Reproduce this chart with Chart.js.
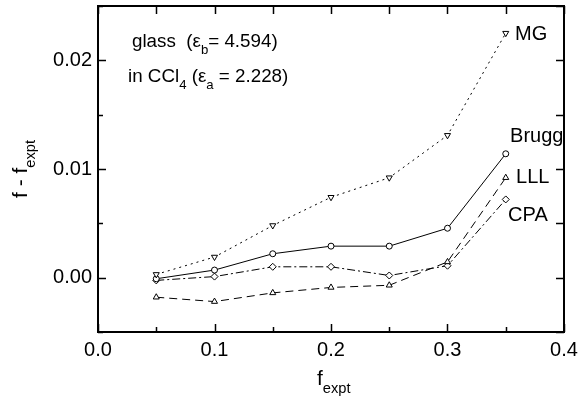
<!DOCTYPE html>
<html>
<head>
<meta charset="utf-8">
<script src="https://cdn.jsdelivr.net/npm/chart.js@4/dist/chart.umd.min.js"></script>
<style>
  html, body { margin: 0; padding: 0; background: #fff; }
  canvas { display: block; }
</style>
</head>
<body>
<canvas id="chart" width="580" height="398"></canvas>
<script>
const FONT = "'Liberation Sans', Arial, Helvetica, sans-serif"

// volume fractions measured
const fExpt = [0.05, 0.10, 0.15, 0.20, 0.25, 0.30, 0.35]

// model minus experiment
const mg    = [0.0003, 0.0019, 0.0048, 0.0074, 0.0092, 0.0131, 0.0225]
const brugg = [-0.0001, 0.0007, 0.0022, 0.0029, 0.0029, 0.00455, 0.0114]
const lll   = [-0.0018, -0.0022, -0.0014, -0.0009, -0.0007, 0.00145, 0.0092]
const cpa   = [-0.00025, 0.0001, 0.0010, 0.0010, 0.0002, 0.0011, 0.0072]

const xTicks = [0.0, 0.1, 0.2, 0.3, 0.4]
const yTicks = [0.00, 0.01, 0.02]
const xMinor = [0.05, 0.15, 0.25, 0.35]
const yMinor = [-0.005, 0.005, 0.015, 0.025]

const seriesNames = ['MG', 'Brugg', 'LLL', 'CPA']

const toPoints = ys => ys.map((y, i) => ({ x: fExpt[i], y }))

function series(label, ys, pointStyle, dash, rotation = 0) {
    return {
        label,
        data: toPoints(ys),
        borderColor: '#000',
        borderWidth: 1,
        borderDash: dash,
        pointStyle,
        pointRotation: rotation,
        pointRadius: pointStyle === 'circle' ? 3 : 3.5,
        pointBackgroundColor: '#fff',
        pointBorderColor: '#000',
        pointBorderWidth: 1,
        tension: 0,
        fill: false
    }
}

// text with subscripts: parts = [[text, isSub], ...]
function richText(ctx, x, y, parts, size) {
    let cx = x
    for (const [t, sub] of parts) {
        const s = sub ? size * 0.7 : size
        ctx.font = `${s}px ${FONT}`
        ctx.fillText(t, cx, sub ? y + size * 0.38 : y)
        cx += ctx.measureText(t).width
    }
}

const framePlugin = {
    id: 'frame',
    afterDraw(chart) {
        const { ctx, chartArea: a, scales: { x, y } } = chart
        ctx.save()
        ctx.strokeStyle = '#000'
        ctx.lineWidth = 2
        ctx.strokeRect(a.left, a.top, a.right - a.left, a.bottom - a.top)

        ctx.lineWidth = 1.5
        ctx.beginPath()
        // bottom / top ticks
        for (const v of xTicks.concat(xMinor)) {
            const px = Math.round(x.getPixelForValue(v)) + 0.5
            const major = xTicks.includes(v)
            ctx.moveTo(px, a.bottom); ctx.lineTo(px, a.bottom - (major ? 8 : 5))
            ctx.moveTo(px, a.top); ctx.lineTo(px, a.top + 8)
        }
        // left / right ticks
        for (const v of yTicks.concat(yMinor)) {
            const py = Math.round(y.getPixelForValue(v)) + 0.5
            const major = yTicks.includes(v)
            ctx.moveTo(a.left, py); ctx.lineTo(a.left + (major ? 8 : 5), py)
            ctx.moveTo(a.right, py); ctx.lineTo(a.right - 8, py)
        }
        ctx.stroke()

        ctx.fillStyle = '#000'
        ctx.textBaseline = 'alphabetic'
        ctx.textAlign = 'left'

        // series names next to the last points
        const namePos = [[0.358, 0.0219], [0.3537, 0.0125], [0.3588, 0.0087], [0.352, 0.0052]]
        ctx.font = `20px ${FONT}`
        seriesNames.forEach((n, i) => {
            ctx.fillText(n, x.getPixelForValue(namePos[i][0]), y.getPixelForValue(namePos[i][1]))
        })

        // sample description
        richText(ctx, 132, 47, [['glass  (ε', false], ['b', true], ['= 4.594)', false]], 18.8)
        richText(ctx, 128, 82, [['in CCl', false], ['4', true], [' (ε', false], ['a', true], [' = 2.228)', false]], 18.8)

        // axis titles
        richText(ctx, 317, 385, [['f', false], ['expt', true]], 21)
        ctx.translate(27, 198)
        ctx.rotate(-Math.PI / 2)
        richText(ctx, 0, 0, [['f - f', false], ['expt', true]], 21)
        ctx.restore()
    }
}

new Chart(document.getElementById('chart'), {
    type: 'line',
    data: {
        datasets: [
            series('MG', mg, 'triangle', [2, 4], 180),
            series('Brugg', brugg, 'circle', []),
            series('LLL', lll, 'triangle', [8, 5]),
            series('CPA', cpa, 'rectRot', [8, 3, 2, 3])
        ]
    },
    options: {
        responsive: false,
        animation: false,
        devicePixelRatio: 1,
        layout: { padding: { top: 6, right: 16, left: 0, bottom: 0 } },
        plugins: { legend: { display: false }, tooltip: { enabled: false } },
        scales: {
            x: {
                type: 'linear',
                min: 0,
                max: 0.4,
                afterBuildTicks: s => { s.ticks = xTicks.map(value => ({ value })) },
                afterFit: s => {
                    s.height = 66
                    s.paddingLeft = 0
                    s.paddingRight = 0
                },
                grid: { display: false, drawTicks: false },
                border: { display: false },
                ticks: {
                    padding: 6,
                    color: '#000',
                    font: { family: FONT, size: 20 },
                    maxRotation: 0,
                    callback: v => v.toFixed(1)
                }
            },
            y: {
                type: 'linear',
                min: -0.005,
                max: 0.025,
                afterBuildTicks: s => { s.ticks = yTicks.map(value => ({ value })) },
                afterFit: s => {
                    s.width = 98
                    s.paddingTop = 0
                    s.paddingBottom = 0
                },
                grid: { display: false, drawTicks: false },
                border: { display: false },
                ticks: {
                    padding: 6,
                    color: '#000',
                    font: { family: FONT, size: 20 },
                    callback: v => v.toFixed(2)
                }
            }
        }
    },
    plugins: [framePlugin]
})
</script>
</body>
</html>
